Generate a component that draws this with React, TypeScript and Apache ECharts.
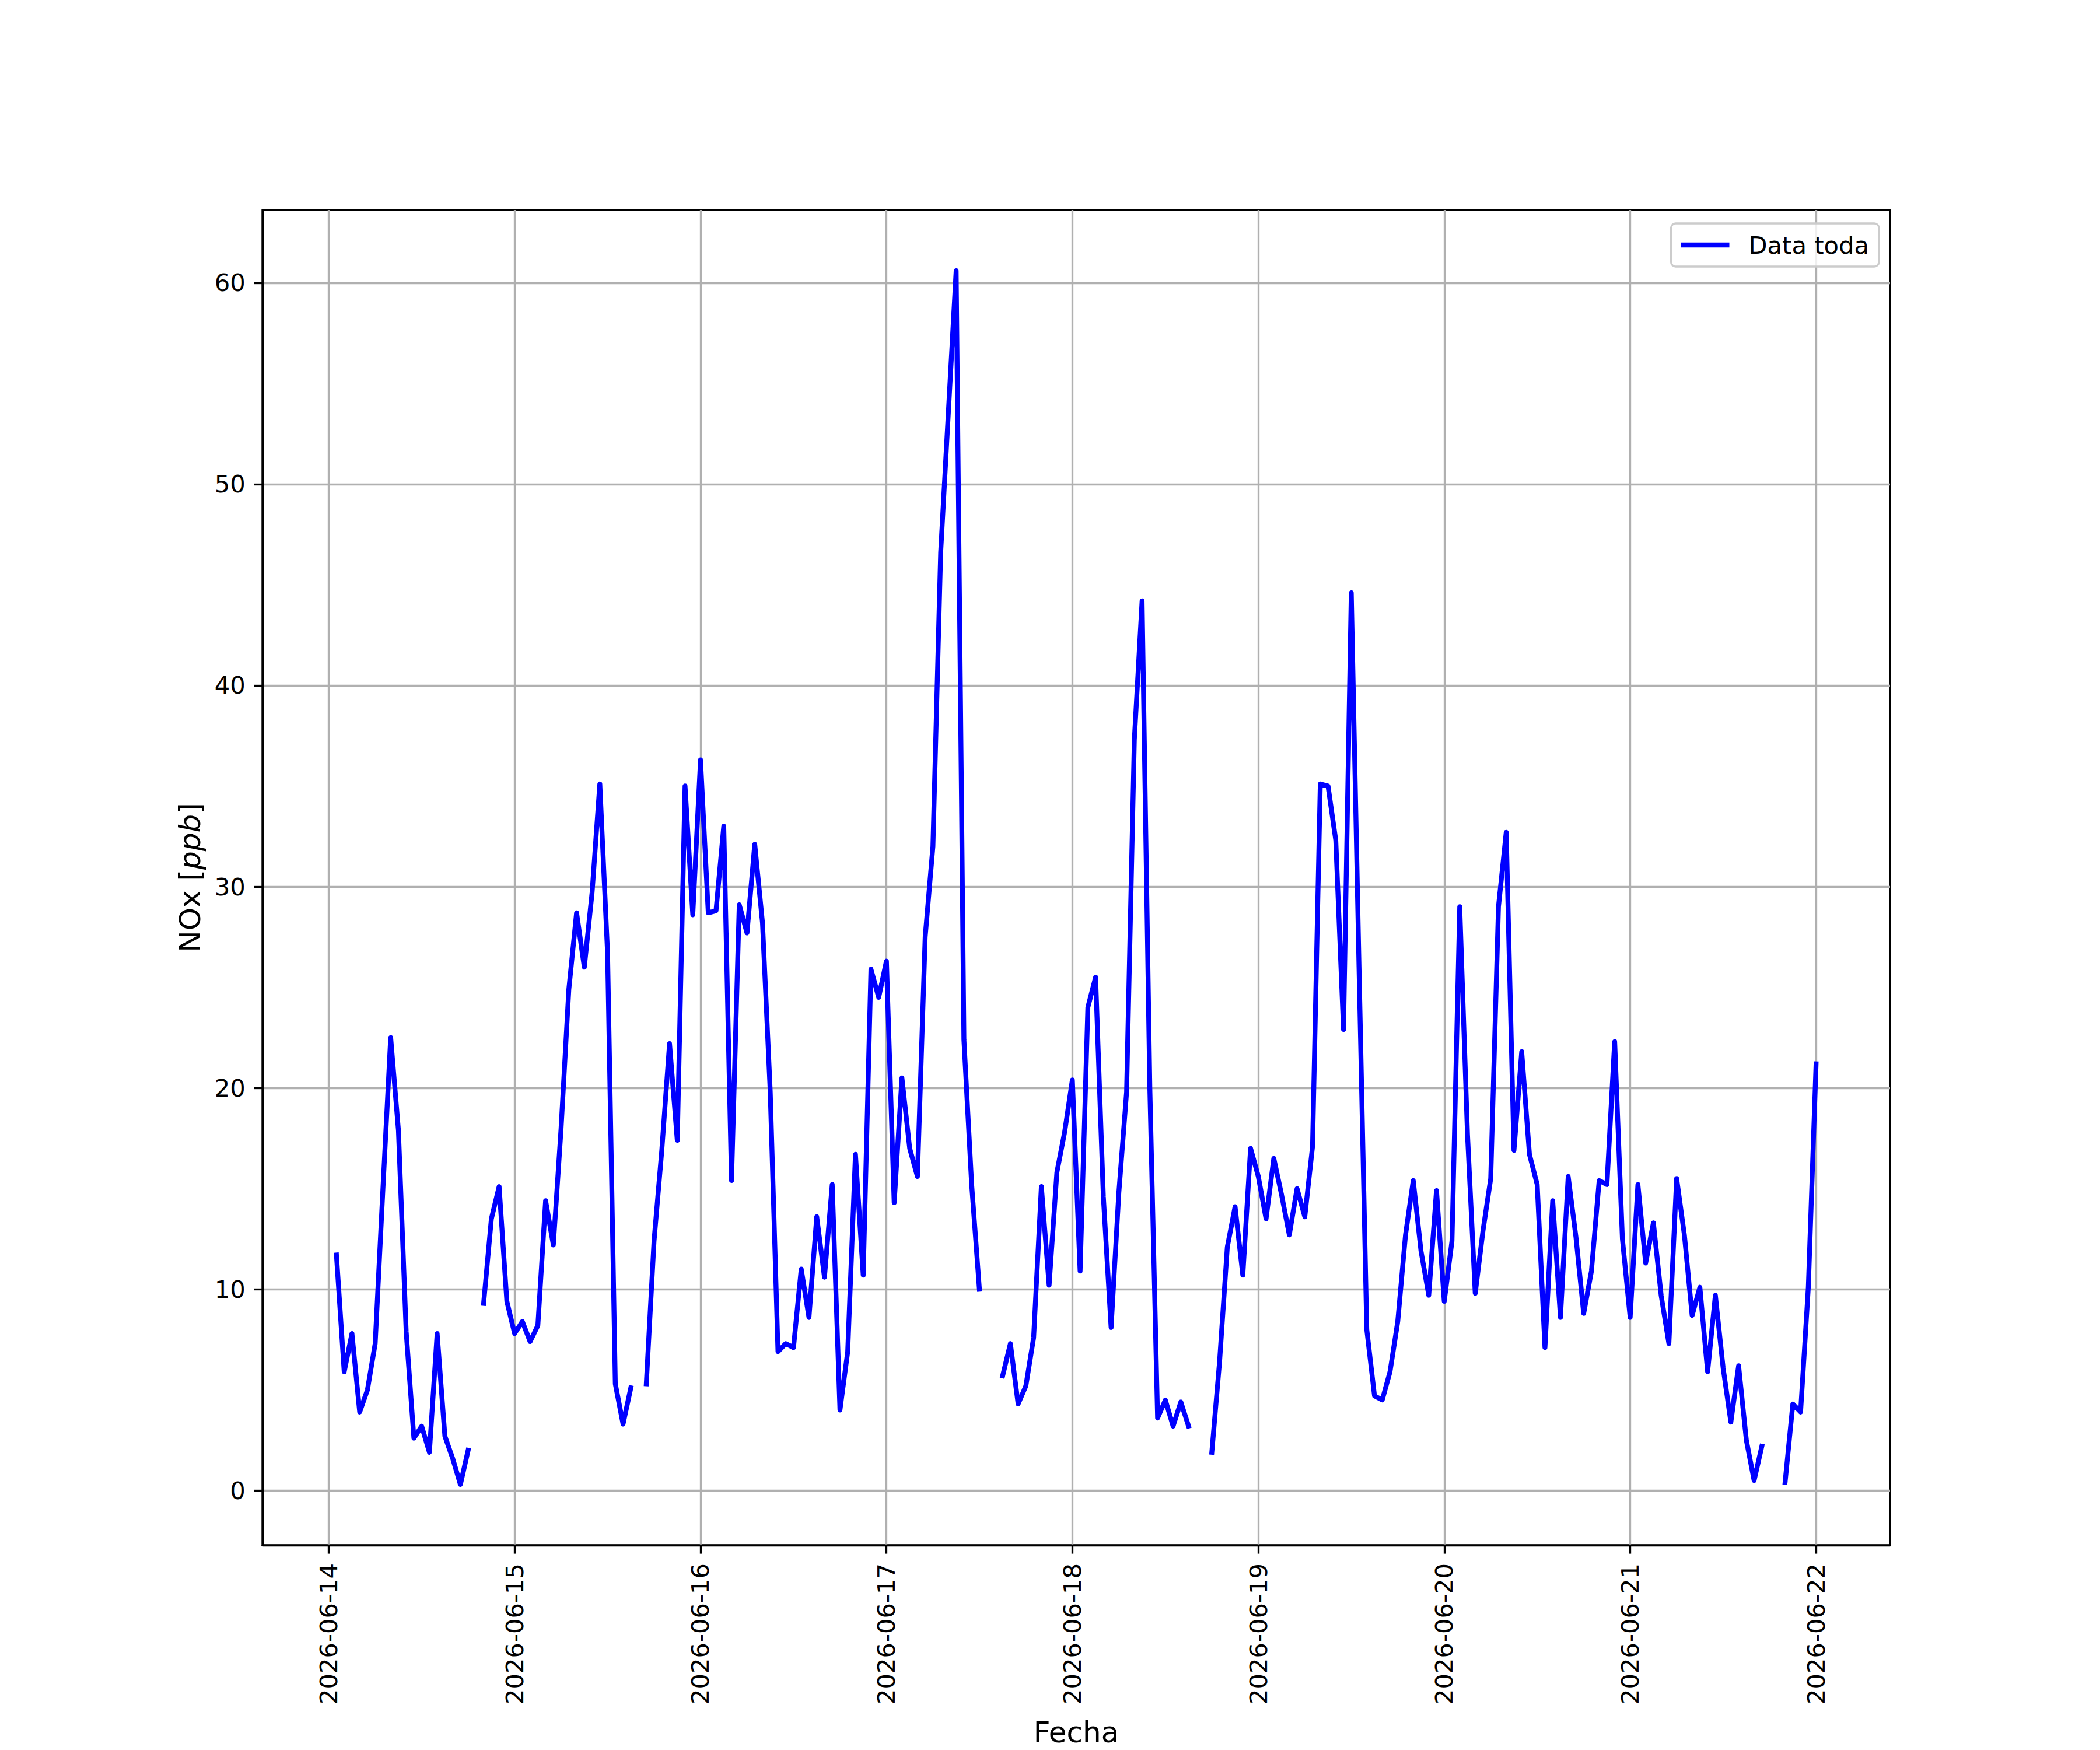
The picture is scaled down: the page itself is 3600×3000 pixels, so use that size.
import React, { useEffect, useRef } from "react";
import * as echarts from "echarts";

// Hourly NOx readings, first reading at hour 1 after 2026-06-14 00:00
const startHour = 1;
const noxValues: (number | null)[] = [
  11.7, 5.9, 7.8, 3.9, 5.0, 7.3, 15.0, 22.5, 17.9, 7.9, 2.6, 3.2, 1.9, 7.8, 2.7, 1.6, 0.3, 2.0, null,
  9.3, 13.5, 15.1, 9.4, 7.8,
  8.4, 7.4, 8.2, 14.4, 12.2, 18.0, 24.9, 28.7, 26.0, 29.7, 35.1, 26.7, 5.3, 3.3, 5.1, null,
  5.3, 12.4, 16.9, 22.2, 17.4, 35.0, 28.6, 36.3,
  28.7, 28.8, 33.0, 15.4, 29.1, 27.7, 32.1, 28.2, 19.8, 6.9, 7.3, 7.1, 11.0, 8.6, 13.6, 10.6,
  15.2, 4.0, 6.9, 16.7, 10.7, 25.9, 24.5, 26.3,
  14.3, 20.5, 17.0, 15.6, 27.5, 32.0, 46.6, 53.6, 60.6, 22.4, 15.2, 10.0, null, null, 5.7, 7.3,
  4.3, 5.2, 7.6, 15.1, 10.2, 15.8, 17.8, 20.4,
  10.9, 24.0, 25.5, 14.6, 8.1, 14.8, 19.8, 37.3, 44.2, 20.0, 3.6, 4.5, 3.2, 4.4, 3.2, null,
  null, 1.9, 6.4, 12.1, 14.1, 10.7, 17.0, 15.6,
  13.5, 16.5, 14.7, 12.7, 15.0, 13.6, 17.1, 35.1, 35.0, 32.3, 22.9, 44.6, 26.0, 8.0, 4.7, 4.5,
  5.9, 8.4, 12.7, 15.4, 11.9, 9.7, 14.9, 9.4,
  12.4, 29.0, 17.7, 9.8, 12.9, 15.5, 29.0, 32.7, 16.9, 21.8, 16.7, 15.2, 7.1, 14.4, 8.6, 15.6,
  12.6, 8.8, 10.9, 15.4, 15.2, 22.3, 12.5, 8.6,
  15.2, 11.3, 13.3, 9.7, 7.3, 15.5, 12.7, 8.7, 10.1, 5.9, 9.7, 6.1, 3.4, 6.2, 2.5, 0.5,
  2.2, null, null, 0.4, 4.3, 3.9, 10.1, 21.2,
];

const xTickHours = [0, 24, 48, 72, 96, 120, 144, 168, 192];
const xTickLabels = [
  "2026-06-14",
  "2026-06-15",
  "2026-06-16",
  "2026-06-17",
  "2026-06-18",
  "2026-06-19",
  "2026-06-20",
  "2026-06-21",
  "2026-06-22",
];
const yTickValues = [0, 10, 20, 30, 40, 50, 60];
const seriesName = "Data toda";
const xAxisTitle = "Fecha";

const FONT = "DejaVu Sans";

export default function App() {
  const ref = useRef<HTMLDivElement>(null);

  useEffect(() => {
    if (!ref.current) return;
    const chart = echarts.init(ref.current, undefined, { renderer: "svg" });

    const points = noxValues.map((v, i) => [startHour + i, v]);
    const hours = points.map((p) => p[0] as number);
    const vals = noxValues.filter((v) => v !== null) as number[];
    const xLo = Math.min(...hours);
    const xHi = Math.max(...hours);
    const yLo = Math.min(...vals);
    const yHi = Math.max(...vals);
    const xPad = (xHi - xLo) * 0.05;
    const yPad = (yHi - yLo) * 0.05;

    const spine = 3.33;
    const tickLen = 14.6;

    chart.setOption({
      animation: false,
      backgroundColor: "#ffffff",
      grid: {
        left: 450,
        right: 360,
        top: 360,
        bottom: 330,
        show: true,
        borderColor: "#000000",
        borderWidth: spine,
        backgroundColor: "transparent",
      },
      legend: {
        show: true,
        right: 379,
        top: 383,
        orient: "vertical",
        padding: [16, 17, 16, 17],
        itemWidth: 83,
        itemHeight: 8.33,
        borderColor: "#cccccc",
        borderWidth: 3.33,
        borderRadius: 8,
        backgroundColor: "rgba(255,255,255,0.8)",
        textStyle: {
          fontFamily: FONT,
          fontSize: 41.67,
          lineHeight: 42,
          color: "#000000",
          padding: [0, 0, 0, 28],
        },
        data: [{ name: seriesName, icon: "rect" }],
        itemStyle: { color: "#0000ff", borderWidth: 0 },
      },
      xAxis: {
        type: "value",
        min: xLo - xPad,
        max: xHi + xPad,
        name: xAxisTitle,
        nameLocation: "middle",
        nameGap: 296,
        nameTextStyle: { fontFamily: FONT, fontSize: 50, color: "#000000", verticalAlign: "top" },
        axisLine: { show: true, onZero: false, lineStyle: { color: "#000000", width: spine } },
        axisTick: {
          show: true,
          inside: false,
          length: tickLen,
          lineStyle: { color: "#000000", width: spine },
          customValues: xTickHours,
        },
        axisLabel: {
          show: true,
          rotate: 90,
          margin: 31,
          fontFamily: FONT,
          fontSize: 41.67,
          color: "#000000",
          customValues: xTickHours,
          formatter: (val: number) => {
            const i = xTickHours.indexOf(Math.round(val));
            return i >= 0 ? xTickLabels[i] : "";
          },
        },
        splitLine: { show: true, lineStyle: { color: "#b0b0b0", width: spine } },
      },
      yAxis: {
        type: "value",
        min: yLo - yPad,
        max: yHi + yPad,
        name: "NOx [{i|ppb}]",
        nameLocation: "middle",
        nameGap: 99,
        nameRotate: 90,
        nameTextStyle: {
          fontFamily: FONT,
          fontSize: 50,
          color: "#000000",
          rich: { i: { fontFamily: FONT, fontSize: 50, fontStyle: "italic", color: "#000000" } },
        },
        axisLine: { show: true, onZero: false, lineStyle: { color: "#000000", width: spine } },
        axisTick: {
          show: true,
          inside: false,
          length: tickLen,
          lineStyle: { color: "#000000", width: spine },
          customValues: yTickValues,
        },
        axisLabel: {
          show: true,
          margin: 29.2,
          fontFamily: FONT,
          fontSize: 41.67,
          color: "#000000",
          customValues: yTickValues,
          formatter: (val: number) => String(Math.round(val)),
        },
        splitLine: { show: true, lineStyle: { color: "#b0b0b0", width: spine } },
      },
      series: [
        {
          name: seriesName,
          type: "line",
          data: points,
          showSymbol: false,
          symbol: "none",
          connectNulls: false,
          itemStyle: { color: "#0000ff" },
          lineStyle: { color: "#0000ff", width: 8.33, cap: "square", join: "round" },
        },
      ],
    });

    return () => chart.dispose();
  }, []);

  return (
    <div
      ref={ref}
      style={{ position: "absolute", left: 0, top: 0, width: 3600, height: 3000 }}
    />
  );
}
